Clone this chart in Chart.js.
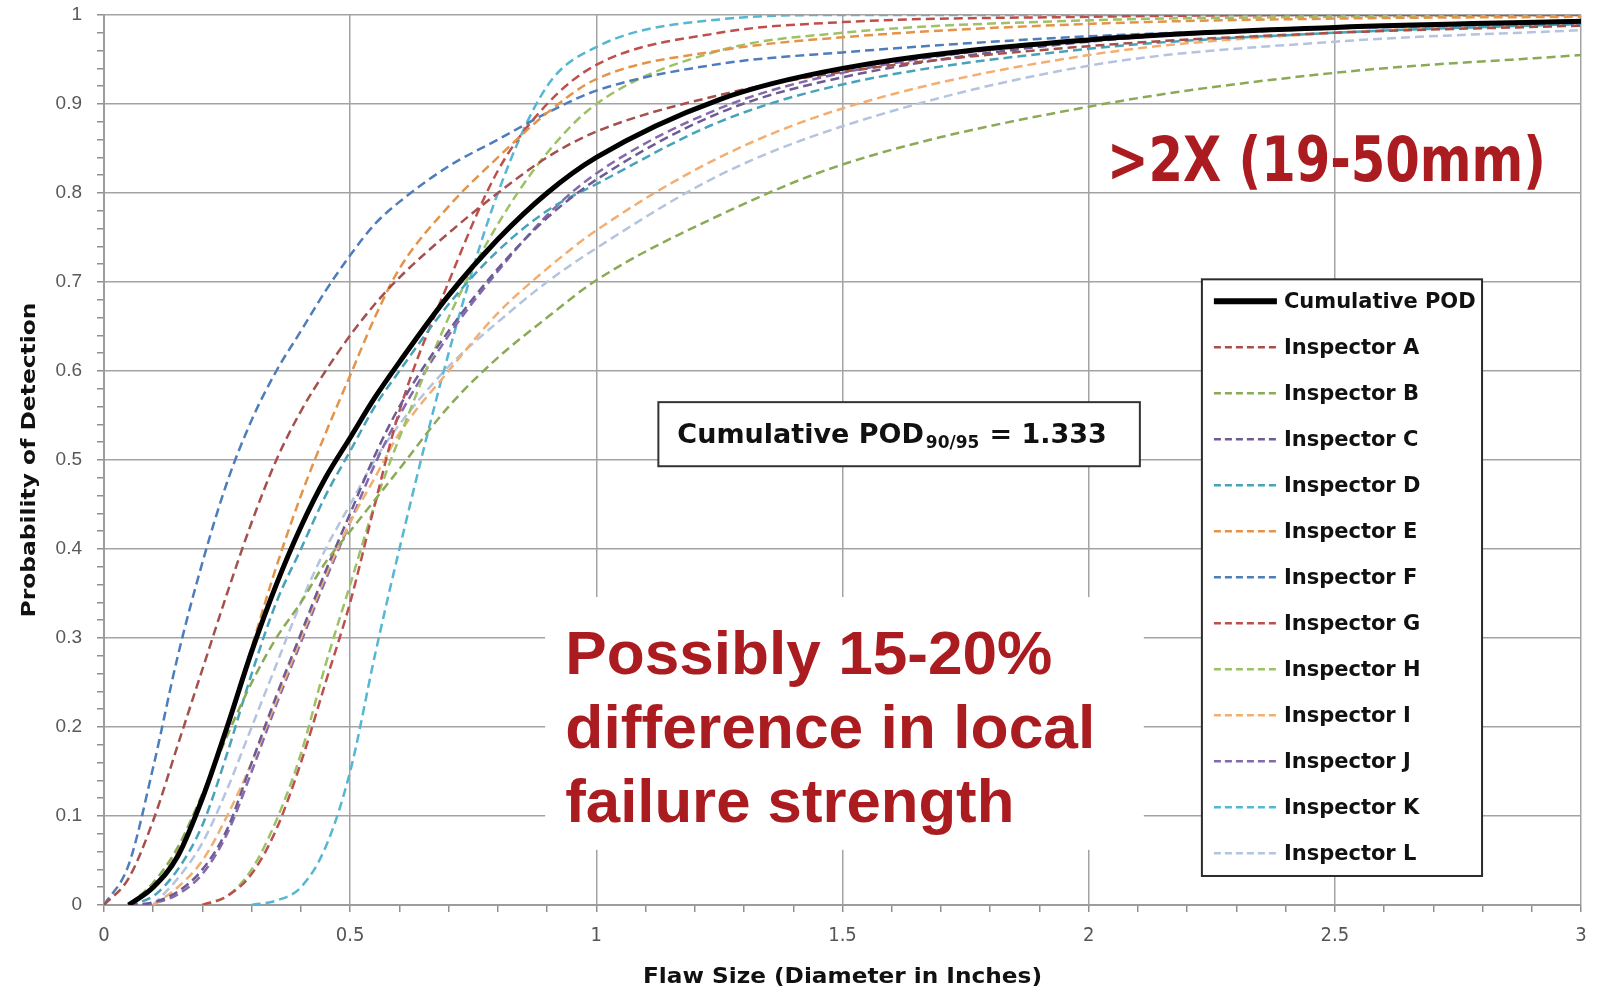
<!DOCTYPE html>
<html>
<head>
<meta charset="utf-8">
<title>POD por inspector</title>
<script src="https://cdn.jsdelivr.net/npm/chart.js@4.4.1/dist/chart.umd.min.js"></script>
<style>
  html, body { margin: 0; padding: 0; background: #ffffff; }
</style>
</head>
<body>
<canvas id="grafico" width="1601" height="992"></canvas>
<script>
// tamano de falla (pulgadas) comun a todas las curvas
const tamanos = [0, 0.05, 0.1, 0.15, 0.2, 0.25, 0.3, 0.35, 0.4, 0.45, 0.5, 0.55, 0.6, 0.7, 0.8, 0.9, 1, 1.25, 1.5, 2, 2.5, 3]

const etiquetasX = ['0', '0.5', '1', '1.5', '2', '2.5', '3']
const etiquetasY = ['0', '0.1', '0.2', '0.3', '0.4', '0.5', '0.6', '0.7', '0.8', '0.9', '1']

const nombres = ['Cumulative POD', 'Inspector A', 'Inspector B', 'Inspector C', 'Inspector D', 'Inspector E',
    'Inspector F', 'Inspector G', 'Inspector H', 'Inspector I', 'Inspector J', 'Inspector K', 'Inspector L']

// probabilidad de deteccion (null = la curva aun no empieza)
const podAcumulado = [null, 0, 0.02, 0.055, 0.12, 0.2, 0.285, 0.36, 0.425, 0.48, 0.525, 0.57, 0.61, 0.685, 0.748, 0.8, 0.84, 0.905, 0.94, 0.972, 0.986, 0.993]
const inspectorA = [0, 0.03, 0.095, 0.18, 0.265, 0.35, 0.43, 0.5, 0.555, 0.6, 0.64, 0.675, 0.705, 0.755, 0.8, 0.84, 0.869, 0.91, 0.936, 0.965, 0.98, 0.988]
const inspectorB = [null, 0, 0.025, 0.065, 0.125, 0.19, 0.25, 0.3, 0.34, 0.385, 0.42, 0.455, 0.49, 0.56, 0.615, 0.66, 0.702, 0.775, 0.832, 0.897, 0.935, 0.955]
const inspectorC = [null, 0, 0.003, 0.015, 0.04, 0.085, 0.16, 0.235, 0.305, 0.375, 0.44, 0.505, 0.56, 0.645, 0.715, 0.772, 0.815, 0.89, 0.93, 0.97, 0.985, 0.992]
const inspectorD = [null, 0, 0.01, 0.04, 0.09, 0.17, 0.26, 0.34, 0.4, 0.46, 0.51, 0.56, 0.6, 0.675, 0.735, 0.78, 0.81, 0.88, 0.922, 0.962, 0.98, 0.99]
const inspectorE = [null, 0, 0.02, 0.06, 0.12, 0.2, 0.29, 0.38, 0.46, 0.53, 0.595, 0.66, 0.715, 0.785, 0.84, 0.89, 0.928, 0.96, 0.975, 0.99, 0.996, 0.998]
const inspectorF = [0, 0.045, 0.155, 0.28, 0.385, 0.475, 0.545, 0.6, 0.645, 0.69, 0.73, 0.765, 0.79, 0.83, 0.86, 0.89, 0.915, 0.945, 0.958, 0.976, 0.985, 0.99]
const inspectorG = [null, null, null, null, 0, 0.01, 0.035, 0.085, 0.16, 0.25, 0.34, 0.45, 0.555, 0.7, 0.825, 0.9, 0.944, 0.98, 0.992, 0.998, 1, 1]
const inspectorH = [null, null, null, null, 0, 0.01, 0.04, 0.095, 0.17, 0.27, 0.36, 0.45, 0.525, 0.66, 0.765, 0.845, 0.9, 0.96, 0.98, 0.994, 0.998, 1]
const inspectorI = [null, null, 0, 0.02, 0.05, 0.1, 0.16, 0.23, 0.3, 0.37, 0.43, 0.48, 0.53, 0.6, 0.665, 0.715, 0.758, 0.84, 0.895, 0.955, 0.98, 0.99]
const inspectorJ = [null, 0, 0.002, 0.012, 0.035, 0.08, 0.15, 0.225, 0.295, 0.365, 0.43, 0.495, 0.55, 0.64, 0.712, 0.775, 0.822, 0.895, 0.935, 0.972, 0.986, 0.993]
const inspectorK = [null, null, null, null, null, null, 0, 0.005, 0.02, 0.065, 0.15, 0.28, 0.4, 0.62, 0.8, 0.92, 0.964, 0.995, 1, 1, 1, 1]
const inspectorL = [null, null, 0, 0.03, 0.07, 0.13, 0.2, 0.27, 0.34, 0.4, 0.45, 0.5, 0.54, 0.605, 0.655, 0.7, 0.738, 0.82, 0.875, 0.943, 0.97, 0.983]

const series = [podAcumulado, inspectorA, inspectorB, inspectorC, inspectorD, inspectorE, inspectorF,
    inspectorG, inspectorH, inspectorI, inspectorJ, inspectorK, inspectorL]

const colores = ['#000000', '#a5504c', '#8aaa55', '#6c5b94', '#47a3ba', '#e39448', '#4d7dba',
    '#bd4f4c', '#9cc264', '#f3ae72', '#8469ad', '#55b8d0', '#b4c4e0']

const rojo = '#ab1c20'
const narrow = '"Liberation Sans Narrow", "DejaVu Sans Condensed", sans-serif'

const esMultiplo = (v, paso) => Math.abs(v / paso - Math.round(v / paso)) < 1e-6

// escribe un texto estirado/encogido al ancho pedido
function textoAjustado(ctx, texto, px, py, ancho, fuente, alineacion) {
    ctx.save()
    ctx.font = fuente
    const medida = ctx.measureText(texto).width
    ctx.translate(px, py)
    ctx.scale(ancho / medida, 1)
    ctx.textAlign = alineacion || 'left'
    ctx.fillText(texto, 0, 0)
    ctx.restore()
}

const anotaciones = {
    id: 'anotaciones',
    beforeDatasetsDraw(chart) {
        const { ctx, scales: { x, y } } = chart
        ctx.save()
        ctx.fillStyle = '#ffffff'
        // panel blanco detras del comentario rojo
        const l = x.getPixelForValue(0.896), r = x.getPixelForValue(2.112)
        const t = y.getPixelForValue(0.346), b = y.getPixelForValue(0.062)
        ctx.fillRect(l, t, r - l, b - t)
        ctx.restore()
    },
    afterDraw(chart) {
        const { ctx, scales: { x, y } } = chart
        ctx.save()
        ctx.textBaseline = 'alphabetic'

        // comentarios en rojo
        ctx.fillStyle = rojo
        textoAjustado(ctx, '>2X (19-50mm)', x.getPixelForValue(2.037), y.getPixelForValue(0.814), 439, 'bold 62px ' + narrow)
        const lineas = ['Possibly 15-20%', 'difference in local', 'failure strength']
        const anchos = [487, 530, 449]
        const bases = [0.2596, 0.1764, 0.0933]
        lineas.forEach((txt, i) => {
            textoAjustado(ctx, txt, x.getPixelForValue(0.937), y.getPixelForValue(bases[i]), anchos[i], 'bold 61px "Liberation Sans", Arial, sans-serif')
        })

        // caja POD 90/95
        const bl = x.getPixelForValue(1.126), br = x.getPixelForValue(2.104)
        const bt = y.getPixelForValue(0.565), bb = y.getPixelForValue(0.493)
        ctx.fillStyle = '#ffffff'
        ctx.fillRect(bl, bt, br - bl, bb - bt)
        ctx.strokeStyle = '#333333'
        ctx.lineWidth = 2
        ctx.strokeRect(bl, bt, br - bl, bb - bt)
        ctx.fillStyle = '#111111'
        const base = bt + 41
        let cx = bl + 19
        ctx.font = 'bold 27px "DejaVu Sans", sans-serif'
        ctx.fillText('Cumulative POD', cx, base)
        cx += ctx.measureText('Cumulative POD').width + 2
        ctx.font = 'bold 17px "DejaVu Sans", sans-serif'
        ctx.fillText('90/95', cx, base + 5)
        cx += ctx.measureText('90/95').width + 10
        ctx.font = 'bold 27px "DejaVu Sans", sans-serif'
        ctx.fillText('= 1.333', cx, base)

        // leyenda
        const ll = x.getPixelForValue(2.23), lr = x.getPixelForValue(2.799)
        const lt = y.getPixelForValue(0.703), lb = y.getPixelForValue(0.0326)
        ctx.fillStyle = '#ffffff'
        ctx.fillRect(ll, lt, lr - ll, lb - lt)
        ctx.strokeStyle = '#2b2b2b'
        ctx.lineWidth = 2
        ctx.strokeRect(ll, lt, lr - ll, lb - lt)
        ctx.font = 'bold 21px "DejaVu Sans", sans-serif'
        ctx.textBaseline = 'middle'
        chart.data.datasets.forEach((ds, i) => {
            const fy = lt + 22 + i * 46
            ctx.beginPath()
            ctx.strokeStyle = ds.borderColor
            ctx.lineWidth = i === 0 ? 6 : 2.5
            ctx.setLineDash(i === 0 ? [] : [7, 4])
            ctx.moveTo(ll + 12, fy)
            ctx.lineTo(ll + 75, fy)
            ctx.stroke()
            ctx.setLineDash([])
            ctx.fillStyle = '#111111'
            ctx.fillText(ds.label, ll + 82, fy + 1)
        })

        // titulos de ejes
        ctx.fillStyle = '#111111'
        ctx.textBaseline = 'middle'
        textoAjustado(ctx, 'Flaw Size (Diameter in Inches)', (x.left + x.right) / 2, 978, 399, 'bold 21px ' + narrow, 'center')
        ctx.translate(30, (y.top + y.bottom) / 2)
        ctx.rotate(-Math.PI / 2)
        textoAjustado(ctx, 'Probability of Detection', 0, 0, 315, 'bold 19px "DejaVu Sans", sans-serif', 'center')
        ctx.restore()
    }
}

const datasets = series.map((valores, i) => ({
    label: nombres[i],
    data: tamanos.map((t, j) => ({ x: t, y: valores[j] })),
    borderColor: colores[i],
    borderWidth: i === 0 ? 5 : 2.5,
    borderDash: i === 0 ? [] : [9, 5],
    pointRadius: 0,
    showLine: true,
    fill: false,
    cubicInterpolationMode: 'monotone',
    spanGaps: false
}))

const grafico = new Chart(document.getElementById('grafico'), {
    type: 'scatter',
    data: { datasets: datasets },
    options: {
        responsive: false,
        animation: false,
        events: [],
        layout: { padding: { top: 15, right: 20, left: 0, bottom: 0 } },
        plugins: { legend: { display: false }, tooltip: { enabled: false } },
        scales: {
            x: {
                type: 'linear',
                min: 0,
                max: 3,
                afterFit: (s) => {
                    s.height = 87
                    s.paddingLeft = 0
                    s.paddingRight = 0
                },
                ticks: {
                    stepSize: 0.1,
                    autoSkip: false,
                    maxRotation: 0,
                    padding: 12,
                    color: '#555555',
                    font: { family: narrow, size: 20 },
                    callback: (v) => esMultiplo(v, 0.5) ? etiquetasX[Math.round(v * 2)] : ''
                },
                grid: {
                    color: (c) => c.tick && esMultiplo(c.tick.value, 0.5) ? '#a3a3a3' : 'rgba(0,0,0,0)',
                    tickColor: '#8f8f8f',
                    lineWidth: 1.5,
                    tickLength: 7
                },
                border: { color: '#9c9c9c', width: 2 }
            },
            y: {
                type: 'linear',
                min: 0,
                max: 1,
                afterFit: (s) => {
                    s.width = 104
                    s.paddingTop = 0
                    s.paddingBottom = 0
                },
                ticks: {
                    stepSize: 0.02,
                    autoSkip: false,
                    padding: 15,
                    color: '#595959',
                    font: { family: '"Liberation Sans", Arial, sans-serif', size: 19 },
                    callback: (v) => esMultiplo(v, 0.1) ? etiquetasY[Math.round(v * 10)] : ''
                },
                grid: {
                    color: (c) => c.tick && esMultiplo(c.tick.value, 0.1) ? '#a3a3a3' : 'rgba(0,0,0,0)',
                    tickColor: '#8f8f8f',
                    lineWidth: 1.5,
                    tickLength: 7
                },
                border: { color: '#9c9c9c', width: 2 }
            }
        }
    },
    plugins: [anotaciones]
})
</script>
</body>
</html>
